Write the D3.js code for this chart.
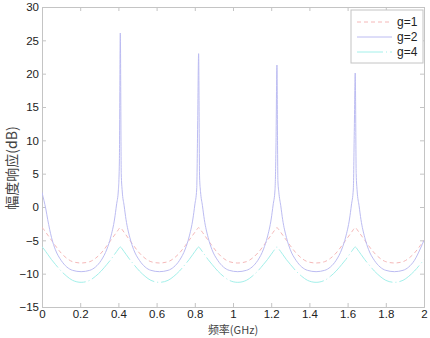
<!DOCTYPE html>
<html>
<head>
<meta charset="utf-8">
<script src="https://cdn.jsdelivr.net/npm/d3@7/dist/d3.min.js"></script>
<style>
  body { margin: 0; background: #fff; }
  svg { display: block; }
  .tick text { font-family: "Liberation Sans", Arial, sans-serif; font-size: 11.5px; fill: #222; }
</style>
</head>
<body>
<svg id="chart"></svg>
<script>
/* Data */
const freqGHz = [
  0, 0.005, 0.01, 0.02, 0.03, 0.05, 0.07, 0.1, 0.13, 0.16, 0.205, 0.25, 0.28, 0.31, 0.34, 0.36, 0.38, 0.39, 0.40, 0.405,
  0.41, 0.415, 0.42, 0.43, 0.44, 0.46, 0.48, 0.51, 0.54, 0.57, 0.615, 0.66, 0.69, 0.72, 0.75, 0.77, 0.79, 0.80, 0.81, 0.815,
  0.82, 0.825, 0.83, 0.84, 0.85, 0.87, 0.89, 0.92, 0.95, 0.98, 1.025, 1.07, 1.10, 1.13, 1.16, 1.18, 1.20, 1.21, 1.22, 1.225,
  1.23, 1.235, 1.24, 1.25, 1.26, 1.28, 1.30, 1.33, 1.36, 1.39, 1.435, 1.48, 1.51, 1.54, 1.57, 1.59, 1.61, 1.62, 1.63, 1.635,
  1.64, 1.645, 1.65, 1.66, 1.67, 1.69, 1.71, 1.74, 1.77, 1.80, 1.845, 1.89, 1.92, 1.95, 1.98, 2.0
];
const g1 = [
  -3.1, -3.2, -3.4, -3.8, -4.2, -5.0, -5.8, -6.9, -7.7, -8.2, -8.4, -8.2, -7.7, -6.9, -5.8, -5.0, -4.2, -3.8, -3.4, -3.2,
  -3.1, -3.2, -3.4, -3.8, -4.2, -5.0, -5.8, -6.9, -7.7, -8.2, -8.4, -8.2, -7.7, -6.9, -5.8, -5.0, -4.2, -3.8, -3.4, -3.2,
  -3.1, -3.2, -3.4, -3.8, -4.2, -5.0, -5.8, -6.9, -7.7, -8.2, -8.4, -8.2, -7.7, -6.9, -5.8, -5.0, -4.2, -3.8, -3.4, -3.2,
  -3.1, -3.2, -3.4, -3.8, -4.2, -5.0, -5.8, -6.9, -7.7, -8.2, -8.4, -8.2, -7.7, -6.9, -5.8, -5.0, -4.2, -3.8, -3.4, -3.2,
  -3.1, -3.2, -3.4, -3.8, -4.2, -5.0, -5.8, -6.9, -7.7, -8.2, -8.4, -8.2, -7.7, -6.9, -5.8, -5.0
];
const g2 = [
  2.2, 1.6, 1.0, -0.3, -1.9, -4.6, -6.4, -8.0, -9.0, -9.5, -9.7, -9.5, -9.0, -8.0, -6.3, -4.5, -1.8, 0.3, 2.6, 6.6,
  26.1, 5.0, 2.4, 0.2, -1.9, -4.6, -6.4, -8.0, -9.0, -9.5, -9.7, -9.5, -9.0, -8.0, -6.3, -4.5, -1.8, 0.3, 2.7, 12.3,
  23.0, 4.5, 2.3, 0.2, -1.9, -4.6, -6.4, -8.0, -9.0, -9.5, -9.7, -9.5, -9.0, -8.0, -6.3, -4.5, -1.8, 0.3, 2.6, 9.0,
  21.3, 4.0, 2.2, 0.2, -1.9, -4.6, -6.4, -8.0, -9.0, -9.5, -9.7, -9.5, -9.0, -8.0, -6.3, -4.5, -1.8, 0.3, 2.7, 11.3,
  20.1, 5.0, 2.4, 0.2, -1.9, -4.6, -6.4, -8.0, -9.0, -9.5, -9.7, -9.5, -9.0, -8.0, -6.3, -5.0
];
const g4 = [
  -6.0, -6.1, -6.3, -6.7, -7.1, -7.9, -8.6, -9.6, -10.4, -11.0, -11.3, -11.0, -10.4, -9.6, -8.6, -7.9, -7.1, -6.7, -6.3, -6.1,
  -6.0, -6.1, -6.3, -6.7, -7.1, -7.9, -8.6, -9.6, -10.4, -11.0, -11.3, -11.0, -10.4, -9.6, -8.6, -7.9, -7.1, -6.7, -6.3, -6.1,
  -6.0, -6.1, -6.3, -6.7, -7.1, -7.9, -8.6, -9.6, -10.4, -11.0, -11.3, -11.0, -10.4, -9.6, -8.6, -7.9, -7.1, -6.7, -6.3, -6.1,
  -6.0, -6.1, -6.3, -6.7, -7.1, -7.9, -8.6, -9.6, -10.4, -11.0, -11.3, -11.0, -10.4, -9.6, -8.6, -7.9, -7.1, -6.7, -6.3, -6.1,
  -6.0, -6.1, -6.3, -6.7, -7.1, -7.9, -8.6, -9.6, -10.4, -11.0, -11.3, -11.0, -10.4, -9.6, -8.6, -7.9
];
const seriesNames = ["g=1", "g=2", "g=4"];
const xTicks = [0, 0.2, 0.4, 0.6, 0.8, 1, 1.2, 1.4, 1.6, 1.8, 2];
const yTicks = [-15, -10, -5, 0, 5, 10, 15, 20, 25, 30];
const xLabel = "频率(GHz)";
const yLabel = "幅度响应(dB)";

/* Layout */
const W = 430, H = 338;
const margin = { top: 7, right: 6, bottom: 31, left: 42 };
const width = W - margin.left - margin.right;
const height = H - margin.top - margin.bottom;

const svg = d3.select("#chart").attr("width", W).attr("height", H);
const g = svg.append("g").attr("transform", `translate(${margin.left},${margin.top})`);

const x = d3.scaleLinear().domain([0, 2]).range([0, width]);
const y = d3.scaleLinear().domain([-15, 30]).range([height, 0]);

const styles = [
  { color: "#f5b8b8", dash: "4,3" },
  { color: "#bcbcf2", dash: null },
  { color: "#a3f0ea", dash: "26,3,1,3" }
];
const values = [g1, g2, g4];

/* Axes box + inward ticks */
const axisColor = "#c4c4c4";
function styleAxis(sel) {
  sel.selectAll(".domain, .tick line").attr("stroke", axisColor);
}
g.append("g").attr("transform", `translate(0,${height})`)
  .call(d3.axisBottom(x).tickValues(xTicks).tickSize(-4).tickPadding(3).tickFormat(d3.format("~g")))
  .call(styleAxis);
g.append("g")
  .call(d3.axisTop(x).tickValues(xTicks).tickSize(-4).tickFormat(""))
  .call(styleAxis);
g.append("g")
  .call(d3.axisLeft(y).tickValues(yTicks).tickSize(-4).tickPadding(3))
  .call(styleAxis);
g.append("g").attr("transform", `translate(${width},0)`)
  .call(d3.axisRight(y).tickValues(yTicks).tickSize(-4).tickFormat(""))
  .call(styleAxis);

/* Lines */
svg.append("clipPath").attr("id", "clip")
  .append("rect").attr("width", width).attr("height", height);
const lines = g.append("g").attr("clip-path", "url(#clip)");
values.forEach((vals, i) => {
  const line = d3.line()
    .x((d, j) => x(freqGHz[j]))
    .y(d => y(d))
    .curve(d3.curveMonotoneX);
  lines.append("path")
    .attr("fill", "none")
    .attr("stroke", styles[i].color)
    .attr("stroke-width", 1)
    .attr("stroke-dasharray", styles[i].dash)
    .attr("d", line(vals));
});

/* Legend */
const legend = g.append("g").attr("transform", `translate(${351 - margin.left},${10 - margin.top})`);
legend.append("rect").attr("width", 72).attr("height", 53)
  .attr("fill", "#fff").attr("stroke", axisColor);
seriesNames.forEach((name, i) => {
  const ly = 12 + i * 15;
  legend.append("line")
    .attr("x1", 6).attr("x2", 41).attr("y1", ly).attr("y2", ly)
    .attr("stroke", styles[i].color).attr("stroke-dasharray", styles[i].dash);
  legend.append("text")
    .attr("x", 46).attr("y", ly + 4)
    .style("font-family", "'Liberation Sans', Arial, sans-serif")
    .style("font-size", "12px").style("fill", "#222")
    .text(name);
});

/* Axis labels */
svg.append("text")
  .attr("x", margin.left + width / 2).attr("y", 334)
  .attr("text-anchor", "middle")
  .style("font-family", "'Noto Sans CJK SC', serif")
  .style("font-size", "11px").style("fill", "#444")
  .text(xLabel);
svg.append("text")
  .attr("transform", `translate(17,168) rotate(-90)`)
  .attr("text-anchor", "middle")
  .style("font-family", "'Noto Sans CJK SC', sans-serif")
  .style("font-size", "14px").style("fill", "#444")
  .text(yLabel);
</script>
</body>
</html>
